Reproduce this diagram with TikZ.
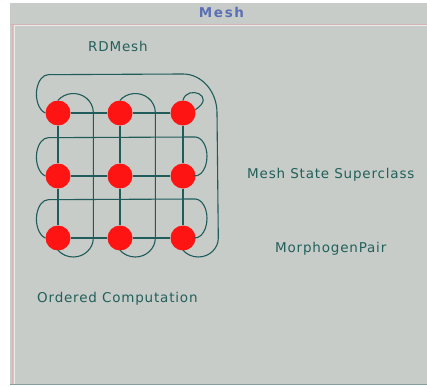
\documentclass[tikz,border=0pt]{standalone}
\usepackage{fontspec}
\setmainfont{DejaVu Sans}
\newfontfamily\labelfont{DejaVu Sans}[LetterSpace=6]
\newfontfamily\titlefont{DejaVu Sans}[LetterSpace=12]
\usetikzlibrary{calc}
\definecolor{meshgray}{HTML}{C8CCC8}
\definecolor{meshteal}{HTML}{1F5C5A}
\definecolor{meshtext}{HTML}{22605B}
\definecolor{meshblue}{HTML}{5B6FB5}
\definecolor{meshred}{HTML}{FF1414}
\definecolor{meshedge}{HTML}{D4B4B4}

\begin{document}
\begin{tikzpicture}[x=1pt,y=1pt,
    site/.style={circle, fill=meshred, minimum size=25pt, inner sep=0pt},
    link/.style={meshteal, line width=1.1pt},
    meshlabel/.style={anchor=base west, inner sep=0pt, text=meshtext,
      font=\labelfont\fontsize{13.5}{16}\selectfont}]
    \useasboundingbox (0,0) rectangle (427,386);
    % window frame
    \fill[white] (0,0) rectangle (427,386);
    \fill[meshgray] (10,1) rectangle (427,383);
    \draw[meshedge, line width=1pt] (10,361.5) -- (427,361.5);
    \draw[white!60!meshgray, line width=1pt] (14,360.5) -- (427,360.5);
    \draw[meshedge, line width=1pt] (12.5,1) -- (12.5,361);
    \draw[white!60!meshgray, line width=1pt] (14,1) -- (14,360);
    \draw[meshteal!40!meshgray, line width=1pt] (10,1.5) -- (427,1.5);
    \node[anchor=base, inner sep=0pt, text=meshblue,
      font=\titlefont\bfseries\fontsize{13.5}{16}\selectfont] (title) at (221.5,368) {Mesh};
    % labels
    \node[meshlabel] (rdmesh) at (88,334) {RDMesh};
    \node[meshlabel] (superclass) at (247,208) {Mesh State Superclass};
    \node[meshlabel] (pair) at (275,134) {MorphogenPair};
    \node[meshlabel] (order) at (37,84) {Ordered Computation};
    % grid of sites
    \foreach \row/\y in {1/273,2/210,3/148}
      \foreach \col/\x in {1/58,2/120,3/183}
        \node[site] (m-\row-\col) at (\x,\y) {};
    \foreach \row in {1,2,3} {
      \draw[link] (m-\row-1) -- (m-\row-2) -- (m-\row-3);
      \draw[link] (m-1-\row) -- (m-2-\row) -- (m-3-\row);
    }
    % ordering loops
    \draw[link] (m-1-1.west) arc[start angle=-105, end angle=-270, x radius=12, y radius=19.5]
      -- ($(m-1-3)+(0,39)$) arc[start angle=90, end angle=0, x radius=34, y radius=39]
      -- ($(m-3-3)+(35.3,0)$) arc[start angle=0, end angle=-140, x radius=20, y radius=19];
    \draw[link] (m-1-3.north) .. controls +(4,16) and +(22,14) .. (m-1-3.15);
    \foreach \row in {2,3}
      \draw[link] (m-\row-1.west) arc[start angle=-105, end angle=-270, x radius=12, y radius=19.5]
        -- ($(m-\row-3)+(12,39)$) arc[start angle=90, end angle=-95, x radius=12, y radius=19.5];
    \foreach \col in {1,2}
      \draw[link] (m-1-\col.north) arc[start angle=140, end angle=0, x radius=20, y radius=19]
        -- ($(m-3-\col)+(35.3,0)$) arc[start angle=0, end angle=-140, x radius=20, y radius=19];
\end{tikzpicture}
\end{document}
